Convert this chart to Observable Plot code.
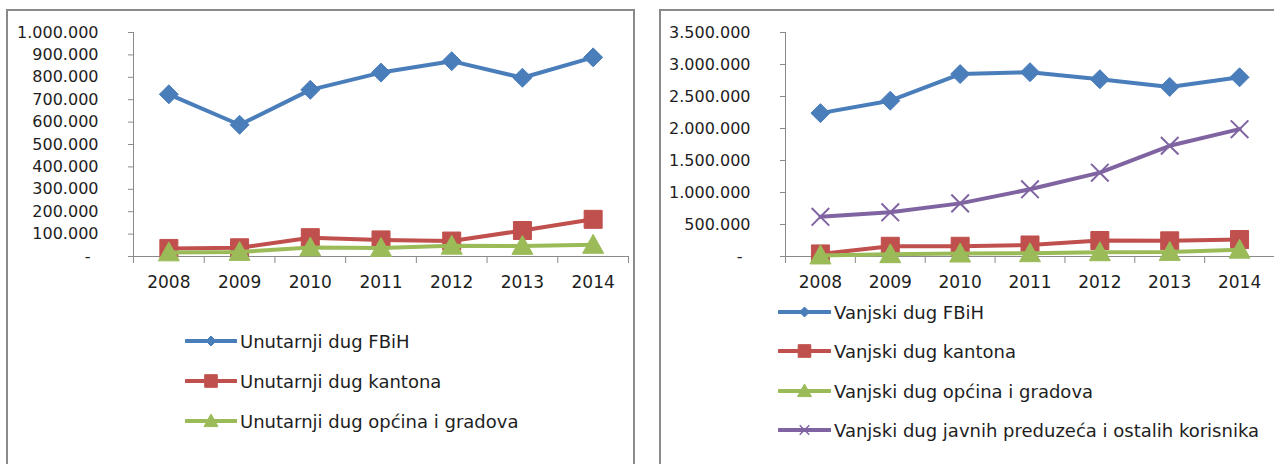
<!DOCTYPE html>
<html><head><meta charset="utf-8">
<script src="https://cdn.jsdelivr.net/npm/d3@7"></script>
<script src="https://cdn.jsdelivr.net/npm/@observablehq/plot@0.6"></script>
<style>
body{margin:0;background:#fff;width:1274px;height:464px;overflow:hidden;position:relative;font-family:"DejaVu Sans",sans-serif;}
.box{position:absolute;border:2px solid #8a8a8a;box-sizing:border-box;}
.chart{position:absolute;top:0;}
.legend{position:absolute;font-size:18px;color:#1e1e1e;}
.row{position:absolute;display:flex;align-items:center;white-space:nowrap;height:24px;}
.row svg{display:block;margin-right:3px;}
</style>
</head><body>
<div class="box" style="left:6px;top:9px;width:629px;height:470px"></div>
<div class="box" style="left:659px;top:9px;width:700px;height:470px"></div>
<div id="left" class="chart" style="left:0px"></div>
<div id="right" class="chart" style="left:640px"></div>
<div id="legLeft" class="legend"></div>
<div id="legRight" class="legend"></div>
<script>
// ---- data ----
const years = [2008, 2009, 2010, 2011, 2012, 2013, 2014];
const yearLabels = ["2008", "2009", "2010", "2011", "2012", "2013", "2014"];

const leftNames = ["Unutarnji dug FBiH", "Unutarnji dug kantona", "Unutarnji dug općina i gradova"];
const unutarnjiFBiH    = [724000, 588000, 744000, 821000, 872000, 798000, 889000];
const unutarnjiKantona = [36000, 39000, 84000, 74000, 69000, 116000, 166000];
const unutarnjiOpcina  = [18000, 20000, 40000, 38000, 48000, 47000, 52000];
const leftYTicks = [0, 100000, 200000, 300000, 400000, 500000, 600000, 700000, 800000, 900000, 1000000];

const rightNames = ["Vanjski dug FBiH", "Vanjski dug kantona", "Vanjski dug općina i gradova", "Vanjski dug javnih preduzeća i ostalih korisnika"];
const vanjskiFBiH    = [2240000, 2435000, 2850000, 2880000, 2770000, 2650000, 2800000];
const vanjskiKantona = [40000, 160000, 160000, 180000, 250000, 245000, 265000];
const vanjskiOpcina  = [15000, 35000, 45000, 50000, 65000, 70000, 105000];
const vanjskiJavnih  = [620000, 690000, 830000, 1050000, 1310000, 1730000, 1990000];
const rightYTicks = [0, 500000, 1000000, 1500000, 2000000, 2500000, 3000000, 3500000];

const colors = ["#4a7ebb", "#c0504d", "#9bbb59", "#8064a2"];

// ---- symbols ----
const symDiamond = {draw(c, s){const r=Math.sqrt(s/Math.PI);c.moveTo(0,-r);c.lineTo(r,0);c.lineTo(0,r);c.lineTo(-r,0);c.closePath();}};
const symSquare = {draw(c, s){const r=Math.sqrt(s/Math.PI)*0.9;c.moveTo(-r,-r);c.lineTo(r,-r);c.lineTo(r,r);c.lineTo(-r,r);c.closePath();}};
const symTriangle = {draw(c, s){const r=Math.sqrt(s/Math.PI);c.moveTo(0,-r);c.lineTo(r,r*0.8);c.lineTo(-r,r*0.8);c.closePath();}};
const symX = {draw(c, s){const r=Math.sqrt(s/Math.PI)*0.8;c.moveTo(-r,-r);c.lineTo(r,r);c.moveTo(r,-r);c.lineTo(-r,r);}};
const symbols = [symDiamond, symSquare, symTriangle, symX];
const markR = [9.5, 10, 10.5, 11];
const legR = [5, 7, 7, 6];

const loc = d3.formatLocale({decimal: ",", thousands: ".", grouping: [3], currency: ["", ""]});
const fmtNum = loc.format(",.0f");
const yFmt = d => d === 0 ? "-\u2002" : fmtNum(d);

function build(el, {names, values, yTicks, width, marginLeft, marginRight}) {
  const bounds = [years[0] - 0.5, ...years.map(y => y + 0.5)];
  const marks = [];
  marks.push(Plot.ruleY([0], {stroke: "#8a8a8a"}));
  marks.push(Plot.ruleX([bounds[0]], {stroke: "#8a8a8a"}));
  marks.push(Plot.axisY(yTicks, {tickSize: 5, tickPadding: 30, tickFormat: yFmt, stroke: "#8a8a8a", fill: "#1e1e1e", fontSize: 16, label: null}));
  marks.push(Plot.axisX(bounds, {tickSize: 7, tickFormat: () => "", stroke: "#8a8a8a", label: null}));
  marks.push(Plot.axisX(years, {tickSize: 0, tickPadding: 19, tickFormat: (d) => yearLabels[years.indexOf(d)], fill: "#1e1e1e", fontSize: 17, label: null}));
  names.forEach((n, i) => {
    const data = years.map((y, j) => ({year: y, value: values[i][j]}));
    marks.push(Plot.line(data, {x: "year", y: "value", stroke: colors[i], strokeWidth: 4, strokeLinejoin: "round", strokeLinecap: "round"}));
    if (i === 3) {
      marks.push(Plot.dot(data, {x: "year", y: "value", r: markR[i], symbol: symbols[i], fill: "none", stroke: colors[i], strokeWidth: 2}));
    } else {
      marks.push(Plot.dot(data, {x: "year", y: "value", r: markR[i], symbol: symbols[i], fill: colors[i], stroke: colors[i], strokeWidth: 1}));
    }
  });
  const svg = Plot.plot({
    width, height: 300,
    marginLeft, marginRight, marginTop: 32, marginBottom: 44,
    x: {type: "linear", domain: [bounds[0], bounds[bounds.length - 1]], axis: null},
    y: {domain: [0, yTicks[yTicks.length - 1]], axis: null},
    style: {background: "transparent", fontFamily: "DejaVu Sans, sans-serif", maxWidth: "none", overflow: "visible"},
    marks
  });
  document.getElementById(el).appendChild(svg);
}

build("left", {names: leftNames, values: [unutarnjiFBiH, unutarnjiKantona, unutarnjiOpcina], yTicks: leftYTicks, width: 640, marginLeft: 133, marginRight: 12});
build("right", {names: rightNames, values: [vanjskiFBiH, vanjskiKantona, vanjskiOpcina, vanjskiJavnih], yTicks: rightYTicks, width: 634, marginLeft: 145, marginRight: 0});

function legend(el, names, x, ys, lineW) {
  const root = document.getElementById(el);
  names.forEach((n, i) => {
    const row = document.createElement("div");
    row.className = "row";
    row.style.left = x + "px";
    row.style.top = (ys[i] - 12) + "px";
    const svg = d3.create("svg").attr("width", lineW).attr("height", 24);
    svg.append("line").attr("x1", 1).attr("x2", lineW - 1).attr("y1", 12).attr("y2", 12)
      .attr("stroke", colors[i]).attr("stroke-width", 4).attr("stroke-linecap", "round");
    const p = d3.path();
    symbols[i].draw(p, Math.PI * legR[i] * legR[i]);
    svg.append("path").attr("d", p.toString()).attr("transform", `translate(${lineW / 2},12)`)
      .attr("fill", i === 3 ? "none" : colors[i]).attr("stroke", colors[i]).attr("stroke-width", i === 3 ? 1.5 : 1);
    row.appendChild(svg.node());
    const t = document.createElement("span");
    t.textContent = n;
    row.appendChild(t);
    root.appendChild(row);
  });
}
legend("legLeft", leftNames, 185, [341, 381, 421], 52);
legend("legRight", rightNames, 778, [312, 351, 391, 430], 53);
</script>
</body></html>
